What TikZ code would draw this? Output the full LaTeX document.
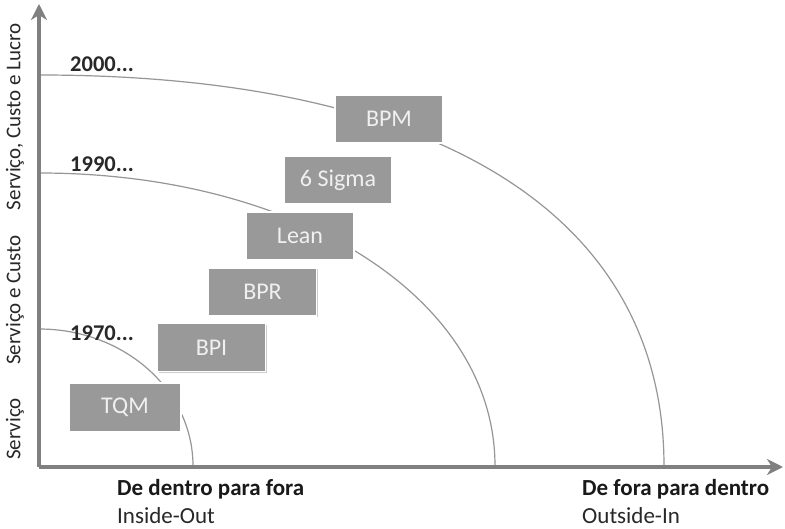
\documentclass[tikz,border=0pt]{standalone}
\usepackage{fontspec}
\setmainfont{Carlito}
\usetikzlibrary{shadows,arrows.meta}
\definecolor{boxgrey}{RGB}{153,153,153}
\definecolor{boxtext}{RGB}{240,240,240}
\definecolor{axisgrey}{RGB}{128,128,128}
\definecolor{arcgrey}{RGB}{150,150,150}
\definecolor{labeltext}{RGB}{40,40,40}
\begin{document}
\begin{tikzpicture}[x=1pt,y=-1pt,
  procbox/.style={draw=white,line width=1.8pt,fill=boxgrey,text=boxtext,
    minimum width=108pt,minimum height=48pt,inner sep=0pt,
    font=\fontsize{24}{28}\selectfont,
    drop shadow={shadow xshift=1.2pt,shadow yshift=-1.2pt,opacity=0.2,fill=black}},
  yearlabel/.style={anchor=base west,inner sep=0pt,text=labeltext,font=\bfseries\fontsize{22.5}{26}\selectfont},
  boldlabel/.style={anchor=base west,inner sep=0pt,text=black!90,font=\bfseries\fontsize{23}{27}\selectfont},
  plainlabel/.style={anchor=base west,inner sep=0pt,text=labeltext,font=\fontsize{23}{27}\selectfont},
  sidelabel/.style={rotate=90,anchor=center,inner sep=0pt,text=labeltext,font=\fontsize{21}{25}\selectfont},
  arcline/.style={draw=arcgrey,line width=1.2pt},
  axisline/.style={draw=axisgrey,line width=3.5pt,-{Stealth[length=16pt,width=16pt,inset=5pt]}}
]
\useasboundingbox (0,0) rectangle (785,529);
\fill[white] (0,0) rectangle (785,529);

% axes
\coordinate (O) at (39,467);
\coordinate (ytip) at (39,4);
\coordinate (xtip) at (783,467);

% arcs (behind boxes)
\coordinate (a70s) at (39,329);  \coordinate (a70e) at (193,466);
\coordinate (a90s) at (39,173);  \coordinate (a90e) at (495,466);
\coordinate (a00s) at (39,75);   \coordinate (a00e) at (664,466);
\draw[arcline] (a70s) .. controls (124,329) and (193,390) .. (a70e);
\draw[arcline] (a90s) .. controls (299,173) and (495,299) .. (a90e);
\draw[arcline] (a00s) .. controls (440,75) and (664,216) .. (a00e);

\draw[axisline] (O) -- (ytip);
\draw[axisline] (O) -- (xtip);

% process boxes
\node[procbox,minimum width=112pt,minimum height=49pt] (tqm) at (125,407.5) {TQM};
\node[procbox] (bpi) at (211.5,347.5) {BPI};
\node[procbox] (bpr) at (262.5,292) {BPR};
\node[procbox] (lean) at (300,236) {Lean};
\node[procbox] (sigma) at (338,180) {6 Sigma};
\node[procbox] (bpm) at (389,119) {BPM};

% year labels
\node[yearlabel] (y2000) at (70,72) {2000...};
\node[yearlabel] (y1990) at (70,172) {1990...};
\node[yearlabel] (y1970) at (70,341) {1970...};

% side labels
\node[sidelabel] (s3) at (15,117) {Serviço, Custo e Lucro};
\node[sidelabel] (s2) at (15,300) {Serviço e Custo};
\node[sidelabel] (s1) at (15,429) {Serviço};

% bottom labels
\node[boldlabel] (inb) at (117,495) {De dentro para fora};
\node[plainlabel] (inp) at (117,523) {Inside-Out};
\node[boldlabel] (outb) at (582,495) {De fora para dentro};
\node[plainlabel] (outp) at (582,523) {Outside-In};
\end{tikzpicture}
\end{document}
